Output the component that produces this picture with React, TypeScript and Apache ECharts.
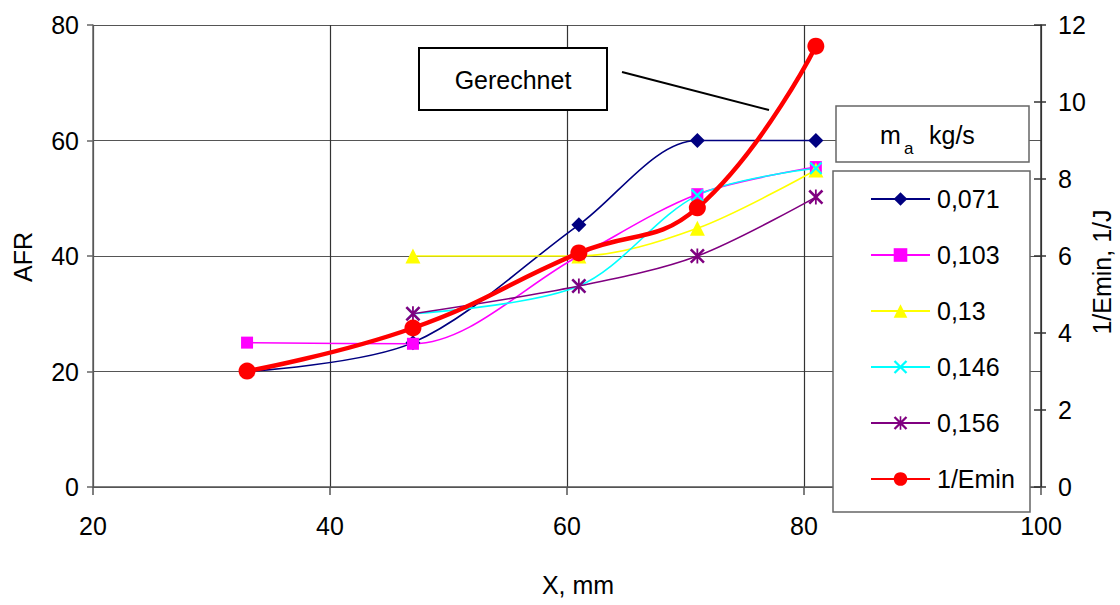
import React, { useEffect, useRef } from "react";
import * as echarts from "echarts";

const xValues = [33, 47, 61, 71, 81];
const seriesNames = ["0,071", "0,103", "0,13", "0,146", "0,156", "1/Emin"];
const afr071 = [20, 25, 45.4, 60, 60];
const afr103 = [25, 24.8, 40, 50.7, 55.4];
const afr13 = [null, 40, 40, 44.8, 54.9];
const afr146 = [null, 30, 34.8, 50.5, 55.2];
const afr156 = [null, 30, 34.8, 40, 50.2];
const invEmin = [3.01, 4.13, 6.08, 7.25, 11.45];
const xTicks = [20, 40, 60, 80, 100];
const leftTicks = [0, 20, 40, 60, 80];
const rightTicks = [0, 2, 4, 6, 8, 10, 12];

const FONT = "'Liberation Sans', Arial, sans-serif";

const X_PATH = "path://M0,1.2L1.2,0L10,8.8L8.8,10ZM8.8,0L10,1.2L1.2,10L0,8.8Z";
const STAR_PATH =
  "path://M0,1.2L1.2,0L10,8.8L8.8,10ZM8.8,0L10,1.2L1.2,10L0,8.8ZM4.4,0L5.6,0L5.6,10L4.4,10Z";

function pairs(ys: (number | null)[]) {
  const out: number[][] = [];
  ys.forEach((y, i) => {
    if (y !== null) out.push([xValues[i], y]);
  });
  return out;
}

export default function App() {
  const ref = useRef<HTMLDivElement>(null);
  useEffect(() => {
    if (!ref.current) return;
    const chart = echarts.init(ref.current, null, { renderer: "svg" });
    const thin = (name: string, data: (number | null)[], color: string, symbol: string, size: number) => ({
      name,
      type: "line",
      data: pairs(data),
      smooth: 0.32,
      symbol,
      symbolSize: size,
      showSymbol: true,
      lineStyle: { color, width: 1.6 },
      itemStyle: { color, borderWidth: 0 },
      z: 2,
    });
    chart.setOption({
      animation: false,
      backgroundColor: "#ffffff",
      textStyle: { fontFamily: FONT },
      grid: { left: 93, right: 79, top: 25, bottom: 118, containLabel: false },
      xAxis: {
        type: "value",
        min: xTicks[0],
        max: xTicks[xTicks.length - 1],
        interval: 20,
        axisLine: { show: true, lineStyle: { color: "#555", width: 1.5 } },
        axisTick: { show: true, inside: false, length: 8, lineStyle: { color: "#555", width: 1.5 } },
        axisLabel: { margin: 26, fontSize: 25, color: "#000", fontFamily: FONT },
        splitLine: { show: true, lineStyle: { color: "#333", width: 1.2 } },
      },
      yAxis: [
        {
          type: "value",
          min: leftTicks[0],
          max: leftTicks[leftTicks.length - 1],
          interval: 20,
          position: "left",
          axisLine: { show: true, lineStyle: { color: "#666", width: 1.5 } },
          axisTick: { show: true, inside: false, length: 6, lineStyle: { color: "#666", width: 1.5 } },
          axisLabel: { margin: 14, fontSize: 25, color: "#000", fontFamily: FONT },
          splitLine: { show: true, lineStyle: { color: "#555", width: 1.2 } },
        },
        {
          type: "value",
          min: rightTicks[0],
          max: rightTicks[rightTicks.length - 1],
          interval: 2,
          position: "right",
          axisLine: { show: true, lineStyle: { color: "#333", width: 1.5 } },
          axisTick: { show: true, inside: false, length: 5, lineStyle: { color: "#333", width: 1.5 } },
          axisLabel: { margin: 17, fontSize: 25, color: "#000", fontFamily: FONT },
          splitLine: { show: false },
        },
        {
          type: "value",
          min: rightTicks[0],
          max: rightTicks[rightTicks.length - 1],
          interval: 2,
          position: "right",
          axisLine: { show: false },
          axisTick: { show: true, inside: true, length: 7, lineStyle: { color: "#333", width: 1.5 } },
          axisLabel: { show: false },
          splitLine: { show: false },
        },
      ],
      legend: {
        show: true,
        orient: "vertical",
        left: 870,
        top: 186,
        padding: 0,
        itemWidth: 59,
        itemHeight: 17,
        itemGap: 30,
        data: seriesNames,
        textStyle: { fontSize: 25, lineHeight: 26, color: "#000", fontFamily: FONT, padding: [0, 0, 0, 2] },
        z: 5,
      },
      graphic: [
        {
          type: "rect",
          z: 3,
          shape: { x: 833, y: 171, width: 197, height: 341 },
          style: { fill: "#fff", stroke: "#666", lineWidth: 1.5 },
        },
        {
          type: "rect",
          z: 3,
          shape: { x: 836, y: 106, width: 193, height: 56 },
          style: { fill: "#fff", stroke: "#666", lineWidth: 1.5 },
        },
        {
          type: "text",
          z: 4,
          x: 880,
          y: 135,
          style: { text: "m", font: `25px ${FONT}`, fill: "#000", textAlign: "left", textVerticalAlign: "middle" },
        },
        {
          type: "text",
          z: 4,
          x: 904,
          y: 148,
          style: { text: "a", font: `17px ${FONT}`, fill: "#000", textAlign: "left", textVerticalAlign: "middle" },
        },
        {
          type: "text",
          z: 4,
          x: 929,
          y: 135,
          style: { text: "kg/s", font: `25px ${FONT}`, fill: "#000", textAlign: "left", textVerticalAlign: "middle" },
        },
        {
          type: "rect",
          z: 6,
          shape: { x: 419, y: 48, width: 188, height: 62 },
          style: { fill: "#fff", stroke: "#000", lineWidth: 2 },
        },
        {
          type: "text",
          z: 7,
          x: 513,
          y: 80,
          style: { text: "Gerechnet", font: `25px ${FONT}`, fill: "#000", textAlign: "center", textVerticalAlign: "middle" },
        },
        {
          type: "line",
          z: 6,
          shape: { x1: 622, y1: 72, x2: 769, y2: 110 },
          style: { stroke: "#000", lineWidth: 2 },
        },
        {
          type: "text",
          z: 4,
          x: 23,
          y: 257,
          rotation: Math.PI / 2,
          style: { text: "AFR", font: `25px ${FONT}`, fill: "#000", textAlign: "center", textVerticalAlign: "middle" },
        },
        {
          type: "text",
          z: 4,
          x: 578,
          y: 585,
          style: { text: "X, mm", font: `25px ${FONT}`, fill: "#000", textAlign: "center", textVerticalAlign: "middle" },
        },
        {
          type: "text",
          z: 4,
          x: 1102,
          y: 272,
          rotation: Math.PI / 2,
          style: { text: "1/Emin, 1/J", font: `25px ${FONT}`, fill: "#000", textAlign: "center", textVerticalAlign: "middle" },
        },
      ],
      series: [
        thin(seriesNames[0], afr071, "#000080", "diamond", 15),
        thin(seriesNames[1], afr103, "#FF00FF", "rect", 12),
        thin(seriesNames[2], afr13, "#FFFF00", "triangle", 15),
        thin(seriesNames[3], afr146, "#00FFFF", X_PATH, 13),
        thin(seriesNames[4], afr156, "#800080", STAR_PATH, 15),
        {
          name: seriesNames[5],
          type: "line",
          yAxisIndex: 1,
          data: pairs(invEmin),
          smooth: 0.45,
          symbol: "circle",
          symbolSize: 17,
          lineStyle: { color: "#FF0000", width: 4.5 },
          itemStyle: { color: "#FF0000", borderWidth: 0 },
          z: 2,
        },
      ],
    });
    return () => chart.dispose();
  }, []);
  return (
    <div
      ref={ref}
      style={{ position: "fixed", left: 0, top: 0, width: 1120, height: 605, background: "#fff" }}
    />
  );
}
